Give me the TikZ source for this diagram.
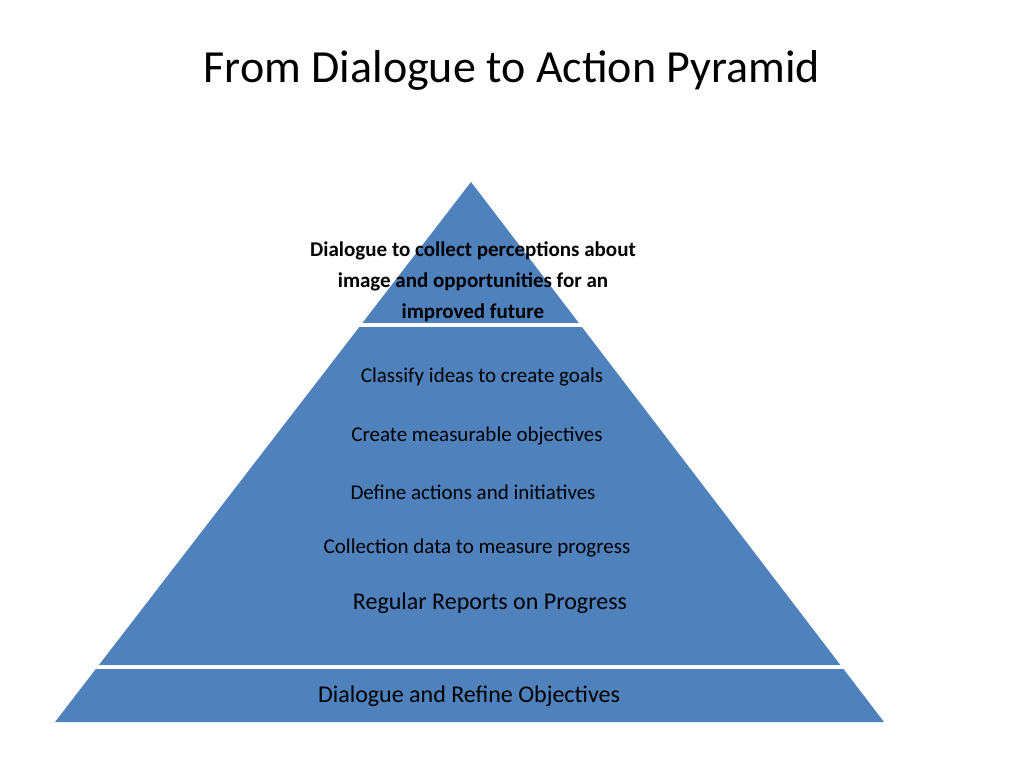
\documentclass[tikz,border=0pt]{standalone}
\usepackage{fontspec}
\setmainfont{Carlito}
\definecolor{pyr}{HTML}{4F81BD}
\begin{document}
\begin{tikzpicture}[x=1pt,y=-1pt,
  lab/.style={font=\fontsize{21}{25}\selectfont,text=black,inner sep=0pt},
  sep/.style={white,line width=4pt}]
\useasboundingbox (0,0) rectangle (1024,768);
\node[font=\fontsize{46}{50}\selectfont] (title) at (512,70) {From Dialogue to Action Pyramid};
\coordinate (apex) at (471,182);
\coordinate (bl) at (55,722);
\coordinate (br) at (884,722);
\fill[pyr] (apex) -- (bl) -- (br) -- cycle;
\coordinate (s1l) at (354,325); \coordinate (s1r) at (587,325);
\coordinate (s2l) at (90,667); \coordinate (s2r) at (848,667);
\draw[sep] (s1l) -- (s1r);
\draw[sep] (s2l) -- (s2r);
\node[lab,font=\bfseries\fontsize{21}{31}\selectfont,align=center] (t1) at (473,282) {Dialogue to collect perceptions about\\image and opportunities for an\\improved future};
\node[lab] (t2) at (482,377) {Classify ideas to create goals};
\node[lab] (t3) at (477,436) {Create measurable objectives};
\node[lab] (t4) at (473,492) {Define actions and initiatives};
\node[lab] (t5) at (477,548) {Collection data to measure progress};
\node[lab,font=\fontsize{24}{28}\selectfont] (t6) at (490,603) {Regular Reports on Progress};
\node[lab,font=\fontsize{24}{28}\selectfont] (t7) at (469,696) {Dialogue and Refine Objectives};
\end{tikzpicture}
\end{document}
